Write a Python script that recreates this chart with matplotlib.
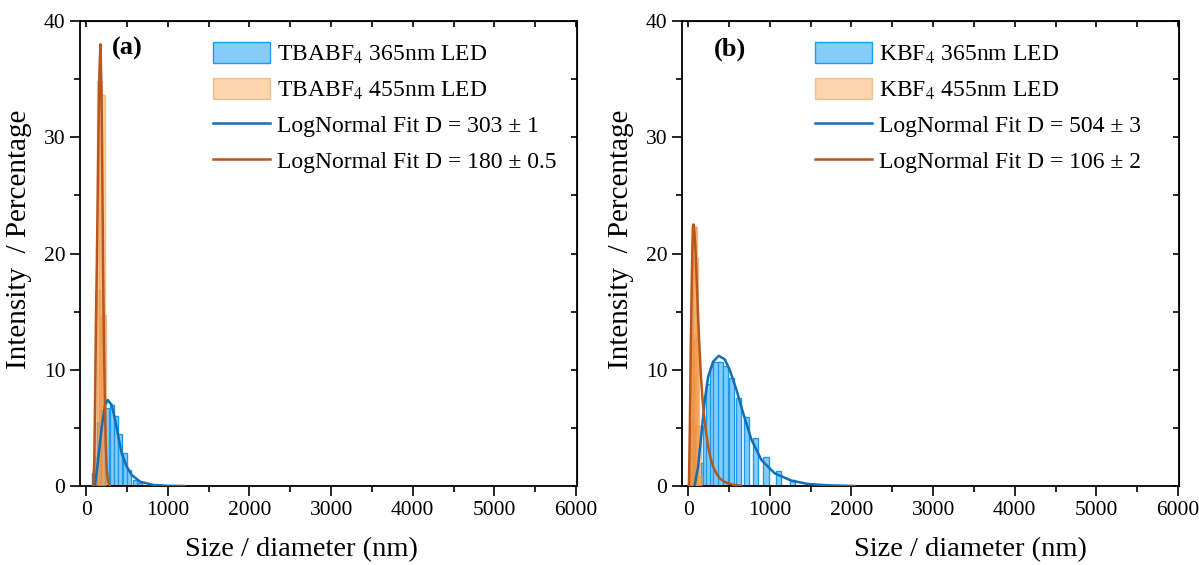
import numpy as np
import matplotlib
matplotlib.use("Agg")
from matplotlib import pyplot as plt
from matplotlib.patches import Rectangle
from matplotlib.legend_handler import HandlerPatch
from matplotlib.ticker import MultipleLocator, NullFormatter

plt.rcParams['font.family'] = ['Liberation Serif', 'DejaVu Serif']
plt.rcParams['mathtext.fontset'] = 'stix'

# ---- panel (a): TBABF4 ----
a_blue_x = [92, 122, 158, 205, 253, 312, 368, 420, 473, 526, 595, 665]
a_blue_y = [1.1, 2.5, 5.5, 6.5, 6.7, 7.0, 6.0, 4.5, 2.8, 1.4, 0.5, 0.3]
a_orange_x = [139, 167, 193, 216]
a_orange_y = [16.9, 34.8, 33.6, 14.7]
a_fit_blue_x = [110, 151, 192, 233, 265, 314, 355, 396, 437, 498, 559, 661, 824, 1000, 1200]
a_fit_blue_y = [0.09, 2.5, 5.1, 6.97, 7.4, 6.97, 5.7, 4.2, 2.8, 1.66, 0.95, 0.37, 0.09, 0.02, 0.0]
a_fit_orange_x = [85, 100, 110, 120, 131, 143, 151, 163, 175, 184, 192, 200, 208, 218, 229, 241, 253, 270, 290]
a_fit_orange_y = [0.0, 2.0, 7.4, 13.5, 18.9, 25.5, 30.3, 35.5, 38.0, 35.5, 31.8, 25.5, 18.9, 12.5, 7.4, 3.5, 1.4, 0.4, 0.05]

# ---- panel (b): KBF4 ----
b_blue_x = [190.1, 220.2, 255.0, 295.3, 342.0, 396.1, 458.7, 531.2, 615.1, 712.4, 825.0, 955.4, 1106, 1281, 1484]
b_blue_y = [2.0, 5.2, 8.8, 10.2, 10.7, 10.7, 10.3, 9.3, 7.6, 5.9, 4.1, 2.5, 1.3, 0.5, 0.17]
b_orange_x = [43.8, 50.8, 58.8, 68.1, 78.8, 91.3, 105.7, 122.4, 141.8]
b_orange_y = [1.0, 5.8, 13.0, 22.4, 22.3, 19.6, 12.6, 5.2, 0.8]
b_fit_blue_x = [81, 122, 163, 204, 245, 306, 375, 448, 509, 591, 673, 775, 897, 1060, 1265, 1469, 1714, 2040]
b_fit_blue_y = [0.09, 1.67, 4.5, 7.4, 9.4, 10.7, 11.2, 10.9, 10.0, 8.3, 6.3, 4.0, 2.24, 1.09, 0.46, 0.17, 0.06, 0.0]
b_fit_orange_x = [10, 20, 30, 41, 53, 65, 78, 90, 106, 122, 138, 155, 175, 196, 220, 245, 275, 306, 345, 387, 440, 490, 560, 653]
b_fit_orange_y = [0.0, 4.5, 10.5, 16.0, 20.5, 22.5, 21.8, 20.3, 17.5, 14.6, 12.0, 9.7, 7.6, 6.0, 4.6, 3.4, 2.4, 1.67, 1.1, 0.66, 0.38, 0.23, 0.1, 0.03]

labels_a = [r"TBABF$_4$ 365nm LED", r"TBABF$_4$ 455nm LED",
            "LogNormal Fit D = 303 \u00b1 1", "LogNormal Fit D = 180 \u00b1 0.5"]
labels_b = [r"KBF$_4$ 365nm LED", r"KBF$_4$ 455nm LED",
            "LogNormal Fit D = 504 \u00b1 3", "LogNormal Fit D = 106 \u00b1 2"]

BLUE_FILL, BLUE_EDGE = '#84CDFB', '#1A9BEE'
ORANGE_FILL, ORANGE_EDGE = '#F7A04D', '#E08A3C'
BLUE_LINE, ORANGE_LINE = '#146EB4', '#B8561C'


def tall_patch(legend, orig_handle, xdescent, ydescent, width, height, fontsize):
    h = 1.25 * fontsize
    return Rectangle((-xdescent, -ydescent + height / 2 - h / 2), width, h)


def draw_panel(ax, blue, orange, fit_blue, fit_orange, widths, labels, tag, xlab_x):
    hb = ax.bar(blue[0], blue[1], width=widths[0], color=BLUE_FILL,
                edgecolor=BLUE_EDGE, linewidth=1.0, zorder=2)
    ho = ax.bar(orange[0], orange[1], width=widths[1], color=ORANGE_FILL,
                alpha=0.45, edgecolor=ORANGE_EDGE, linewidth=1.0, zorder=3)
    lb, = ax.plot(fit_blue[0], fit_blue[1], color=BLUE_LINE, lw=1.8, zorder=4)
    lo, = ax.plot(fit_orange[0], fit_orange[1], color=ORANGE_LINE, lw=1.8, zorder=5)

    ax.set_xlim(-75, 6010)
    ax.set_ylim(0, 40)
    ax.xaxis.set_major_locator(MultipleLocator(1000))
    ax.xaxis.set_minor_locator(MultipleLocator(500))
    ax.yaxis.set_major_locator(MultipleLocator(10))
    ax.yaxis.set_minor_locator(MultipleLocator(5))
    ax.tick_params(which='major', direction='out', length=7, width=1.2, labelsize=15.5)
    ax.tick_params(which='minor', direction='out', length=4, width=1.2)
    for sp in ax.spines.values():
        sp.set_linewidth(1.3)

    # inward ticks on top and right, no labels
    top = ax.secondary_xaxis('top')
    top.xaxis.set_major_locator(MultipleLocator(500))
    top.xaxis.set_major_formatter(NullFormatter())
    top.tick_params(direction='in', length=4, width=1.2)
    right = ax.secondary_yaxis('right')
    right.yaxis.set_major_locator(MultipleLocator(5))
    right.yaxis.set_major_formatter(NullFormatter())
    right.tick_params(direction='in', length=4, width=1.2)

    ax.set_xlabel("Size / diameter (nm)", fontsize=20.5)
    ax.xaxis.set_label_coords(xlab_x, -0.11)
    ax.set_ylabel("Intensity  / Percentage", fontsize=21)
    ax.yaxis.set_label_coords(-0.097, 0.53)

    ax.text(0.064, 0.94, tag, transform=ax.transAxes, fontsize=19,
            fontweight='bold', va='center', ha='left')

    leg = ax.legend([hb, ho, lb, lo], labels, loc='upper left',
                    bbox_to_anchor=(0.225, 1.0), frameon=False, fontsize=17,
                    handlelength=2.4, handleheight=1.0, handletextpad=0.3,
                    labelspacing=0.5,
                    handler_map={type(hb.patches[0]): HandlerPatch(patch_func=tall_patch)})
    return leg


fig = plt.figure(figsize=(11.99, 5.65), dpi=100)
ax_a = fig.add_axes([0.0667, 0.1398, 0.4145, 0.823])
ax_b = fig.add_axes([0.5688, 0.1398, 0.4145, 0.823])

draw_panel(ax_a, (a_blue_x, a_blue_y), (a_orange_x, a_orange_y),
           (a_fit_blue_x, a_fit_blue_y), (a_fit_orange_x, a_fit_orange_y),
           (50, 65), labels_a, "(a)", 0.445)
draw_panel(ax_b, (b_blue_x, b_blue_y), (b_orange_x, b_orange_y),
           (b_fit_blue_x, b_fit_blue_y), (b_fit_orange_x, b_fit_orange_y),
           (65, 65), labels_b, "(b)", 0.58)

fig.savefig("out.png", dpi=100)
